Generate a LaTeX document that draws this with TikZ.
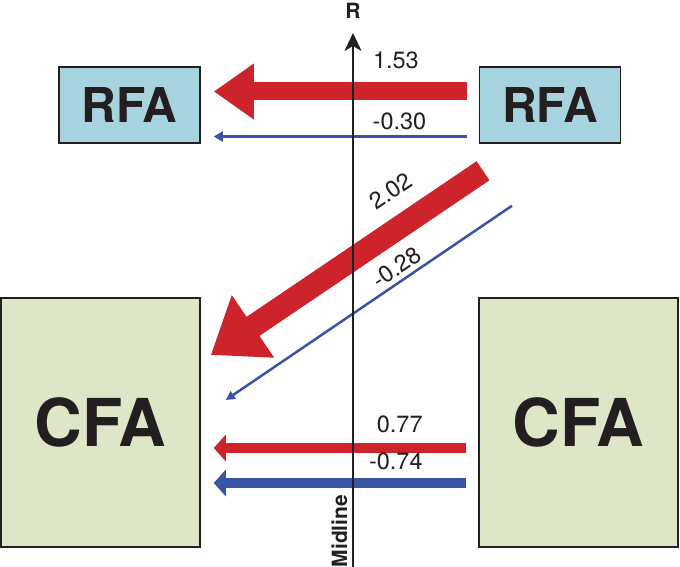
\documentclass[tikz,border=0pt]{standalone}
\usepackage{fontspec}
\setmainfont{TeX Gyre Heros}
\usepackage{tikz}
\usetikzlibrary{arrows.meta, positioning}
\definecolor{arrred}{RGB}{205,35,42}
\definecolor{arrblue}{RGB}{58,84,165}
\definecolor{rfafill}{RGB}{167,211,222}
\definecolor{cfafill}{RGB}{221,230,199}
\definecolor{ink}{RGB}{35,31,32}

\begin{document}
\begin{tikzpicture}[x=1pt, y=1pt,
	area/.style={draw=ink, text=ink, line width=1.5pt, inner sep=0pt},
	rfa/.style={area, fill=rfafill, minimum width=141pt, minimum height=76pt, font=\fontsize{48}{50}\selectfont\bfseries},
	cfa/.style={area, fill=cfafill, minimum width=199pt, minimum height=249pt, font=\fontsize{66}{70}\selectfont\bfseries},
	val/.style={inner sep=0pt, text=ink, font=\fontsize{23.5}{25}\selectfont},
	axlabel/.style={inner sep=0pt, text=ink, font=\fontsize{21}{23}\selectfont\bfseries}]
	                %\draw[step=20pt, color=gray] (0,0) grid (680,567);
			\useasboundingbox (0,0) rectangle (680,567);
			\node[rfa] (rfaL) at (129.5,462) {RFA};
			\node[rfa] (rfaR) at (550,462) {RFA};
			\node[cfa] (cfaL) at (100.5,144.5) {CFA};
			\node[cfa] (cfaR) at (578.5,144.5) {CFA};
			% RFA -> RFA
			\draw[arrred, line width=18pt, -{Triangle[length=40pt, width=53pt]}] ([shift={(-12,13.5)}]rfaR.west) -- ([shift={(13,13.5)}]rfaL.east)
				node[val, pos=.154, anchor=south east, yshift=14pt] {1.53};
			\draw[arrblue, line width=3pt, -{Triangle[length=9pt, width=10pt]}] ([shift={(-12,-31.5)}]rfaR.west) -- ([shift={(13,-31.5)}]rfaL.east)
				node[val, pos=.154, anchor=south east, yshift=5pt] {-0.30};
			% RFA -> CFA
			\draw[arrred, line width=23pt, -{Triangle[length=51pt, width=72pt]}] ([shift={(-67,-27)}]rfaR.south) -- ([shift={(10,67.5)}]cfaL.east)
				node[val, pos=.267, sloped, above=15pt] {2.02};
			\draw[arrblue, line width=2.5pt, -{Triangle[length=9pt, width=9pt]}] ([shift={(-38,-62)}]rfaR.south) -- ([shift={(25,22.5)}]cfaL.east)
				node[val, pos=.376, sloped, above=4pt] {-0.28};
			% CFA -> CFA
			\draw[arrred, line width=9.5pt, -{Triangle[length=12pt, width=26pt]}] ([shift={(-12,-25.5)}]cfaR.west) -- ([shift={(13,-25.5)}]cfaL.east)
				node[val, pos=.154, anchor=south east, yshift=10pt] {0.77};
			\draw[arrblue, line width=9.5pt, -{Triangle[length=12pt, width=26pt]}] ([shift={(-12,-60.5)}]cfaR.west) -- ([shift={(13,-60.5)}]cfaL.east)
				node[val, pos=.154, anchor=south east, yshift=8pt] {-0.74};
			% midline
			\coordinate (mid0) at (353,0);
			\coordinate (midR) at (353,534);
			\draw[ink, line width=2pt, -{Stealth[length=18pt, width=17pt, inset=5pt]}] (mid0) -- (midR) node[axlabel, above=13pt] (rlbl) {R};
			\node[axlabel, rotate=90] (midlbl) at (339.5,36) {Midline};
	\end{tikzpicture}
\end{document}
